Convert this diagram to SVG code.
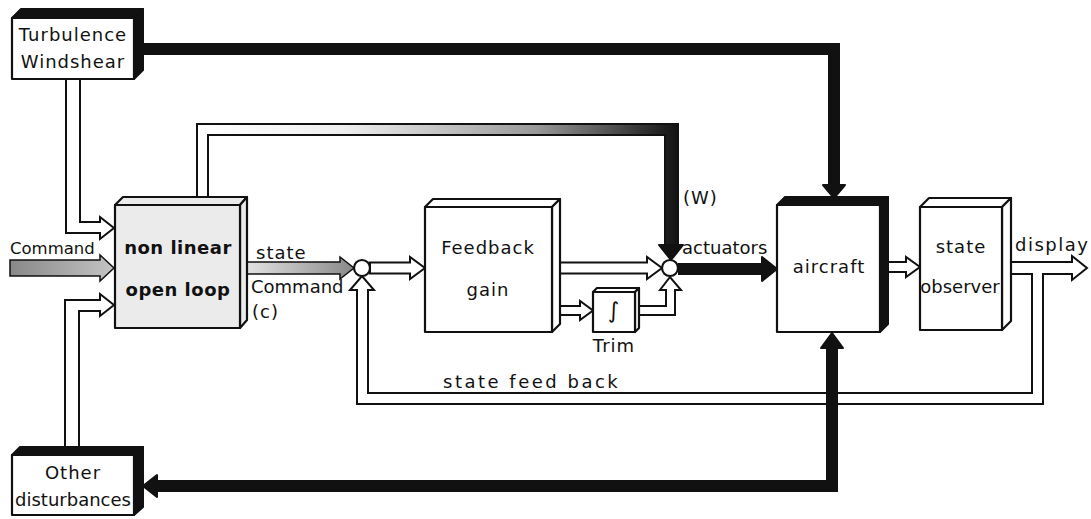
<svg xmlns="http://www.w3.org/2000/svg" width="1091" height="519" viewBox="0 0 1091 519">
<defs>
<style>
.t{font-family:"DejaVu Sans","Liberation Sans",sans-serif;font-size:18px;fill:#111;letter-spacing:1px}
.b{font-weight:bold;letter-spacing:0.5px}
.m{text-anchor:middle}
.face{fill:#fff;stroke:#111;stroke-width:2.2;stroke-linejoin:round}
.gray{fill:#ebebeb}
.blk{fill:#111;stroke:#111;stroke-width:2;stroke-linejoin:round}
.hol{fill:#fff;stroke:#111;stroke-width:2;stroke-linejoin:miter}
.thick{fill:none;stroke:#111;stroke-width:12;stroke-linejoin:miter}
</style>
<linearGradient id="gTop" gradientUnits="userSpaceOnUse" x1="200" y1="0" x2="680" y2="0">
<stop offset="0" stop-color="#fff"/>
<stop offset="0.3" stop-color="#eee"/>
<stop offset="0.7" stop-color="#999"/>
<stop offset="0.92" stop-color="#333"/>
<stop offset="1" stop-color="#111"/>
</linearGradient>
<linearGradient id="gState" gradientUnits="userSpaceOnUse" x1="247" y1="0" x2="354" y2="0">
<stop offset="0" stop-color="#e2e2e2"/>
<stop offset="1" stop-color="#888"/>
</linearGradient>
<linearGradient id="gCmd" gradientUnits="userSpaceOnUse" x1="10" y1="0" x2="114" y2="0">
<stop offset="0" stop-color="#888"/>
<stop offset="1" stop-color="#c4c4c4"/>
</linearGradient>
</defs>

<g id="connectors">
<!-- Turbulence -> non linear -->
<polygon class="hol" points="66,79 66,233 100,233 100,239 114,228 100,217 100,222 80,222 80,79"/>
<!-- Other disturbances -> non linear -->
<polygon class="hol" points="65,447 65,300 100,300 100,294 114,305 100,316 100,311 79,311 79,447"/>
<!-- Command input -->
<polygon points="10,260 100,260 100,255 114,268 100,281 100,276 10,276" fill="url(#gCmd)" stroke="#111" stroke-width="1.5"/>
<!-- state command -->
<polygon points="247,262 340,262 340,257 354,268 340,279 340,274 247,274" fill="url(#gState)" stroke="#111" stroke-width="1.5"/>
<!-- top tube (W) -->
<polygon points="197,197 197,124 678,124 678,246 665,246 665,135 208,135 208,197" fill="url(#gTop)" stroke="#111" stroke-width="2"/>
<polygon class="blk" points="659,245 683,245 671,260"/>
<!-- junction 1 -> feedback gain -->
<polygon class="hol" points="370,262.5 410,262.5 410,257 425,268 410,279 410,273.5 370,273.5"/>
<!-- feedback gain -> junction 2 -->
<polygon class="hol" points="560,262.5 647,262.5 647,257 662,268 647,279 647,273.5 560,273.5"/>
<!-- feedback gain -> trim -->
<polygon class="hol" points="560,306 580,306 580,301 593,310.5 580,320 580,315 560,315"/>
<!-- trim -> junction 2 -->
<polygon class="hol" points="639,306 666,306 666,290 660,290 670,277 681,290 675,290 675,315 639,315"/>
<!-- junction 2 -> aircraft -->
<rect x="678" y="263" width="86" height="12" fill="#111"/>
<polygon class="blk" points="762,257 777,269 762,281"/>
<!-- turbulence -> aircraft -->
<polyline class="thick" points="143,49 834,49 834,186"/>
<polygon class="blk" points="823,185 845,185 834,198"/>
<!-- aircraft -> observer -->
<polygon class="hol" points="888,262 906,262 906,257 920,267 906,277 906,272 888,272"/>
<!-- display + state feedback -->
<polygon class="hol" points="1011,262 1072,262 1072,256 1087,268 1072,280 1072,274 1043,274 1043,404 357,404 357,290 350,290 362,276 374,290 368,290 368,393 1032,393 1032,274 1011,274"/>
<!-- aircraft <-> other disturbances -->
<polyline class="thick" points="832,348 832,486 157,486"/>
<polygon class="blk" points="821,348 843,348 832,333"/>
<polygon class="blk" points="157,475 157,497 143,486"/>
</g>

<g id="junction1"><circle cx="362" cy="268" r="8" class="face"/></g>
<g id="junction2"><circle cx="670" cy="268" r="8" class="face"/></g>

<g id="turbulence">
<polygon class="blk" points="12,18 21,9 143,9 134,18"/>
<polygon class="blk" points="134,18 143,9 143,70 134,79"/>
<rect x="12" y="18" width="122" height="61" class="face"/>
<text class="t m" x="73" y="41">Turbulence</text>
<text class="t m" x="73" y="68">Windshear</text>
</g>

<g id="other">
<polygon class="blk" points="12,455 20,447 143,447 134,455"/>
<polygon class="blk" points="134,455 143,447 143,507 134,515"/>
<rect x="12" y="455" width="122" height="60" class="face"/>
<text class="t m" x="73" y="479">Other</text>
<text class="t m" x="73" y="506" style="letter-spacing:0px">disturbances</text>
</g>

<g id="nonlinear">
<polygon class="face gray" points="115,205 123,197 247,197 240,205"/>
<polygon class="face gray" points="240,205 247,197 247,320 240,328"/>
<rect x="115" y="205" width="125" height="123" class="face gray"/>
<text class="t b m" x="178" y="254">non linear</text>
<text class="t b m" x="178" y="296">open loop</text>
</g>

<g id="feedback">
<polygon class="face" points="425,207 433,199 560,199 552,207"/>
<polygon class="face" points="552,207 560,199 560,324 552,332"/>
<rect x="425" y="207" width="127" height="125" class="face"/>
<text class="t m" x="488" y="254">Feedback</text>
<text class="t m" x="488" y="296">gain</text>
</g>

<g id="trim">
<polygon class="face" points="593,292 597,288 639,288 635,292"/>
<polygon class="face" points="635,292 639,288 639,328 635,332"/>
<rect x="593" y="292" width="42" height="40" class="face"/>
<text class="t m" x="614" y="318" style="font-size:22px">∫</text>
<text class="t m" x="614" y="352">Trim</text>
</g>

<g id="aircraft">
<polygon class="blk" points="777,205 785,197 888,197 880,205"/>
<polygon class="blk" points="880,205 888,197 888,324 880,332"/>
<rect x="777" y="205" width="103" height="127" class="face"/>
<text class="t m" x="829" y="273">aircraft</text>
</g>

<g id="observer">
<polygon class="face" points="920,207 929,198 1011,198 1002,207"/>
<polygon class="face" points="1002,207 1011,198 1011,321 1002,330"/>
<rect x="920" y="207" width="82" height="123" class="face"/>
<text class="t m" x="961" y="253">state</text>
<text class="t m" x="960" y="293" style="letter-spacing:0px">observer</text>
</g>

<g id="labels">
<text class="t" x="10" y="254" style="letter-spacing:0px;font-size:16.5px">Command</text>
<text class="t" x="256" y="259">state</text>
<text class="t" x="251" y="293" style="letter-spacing:0px">Command</text>
<text class="t" x="252" y="318">(c)</text>
<text class="t" x="683" y="204">(W)</text>
<text class="t" x="682" y="254" style="letter-spacing:0px">actuators</text>
<text class="t" x="1015" y="251" style="letter-spacing:1.5px">display</text>
<text class="t" x="443" y="388" style="letter-spacing:2.5px">state feed back</text>
</g>
</svg>
